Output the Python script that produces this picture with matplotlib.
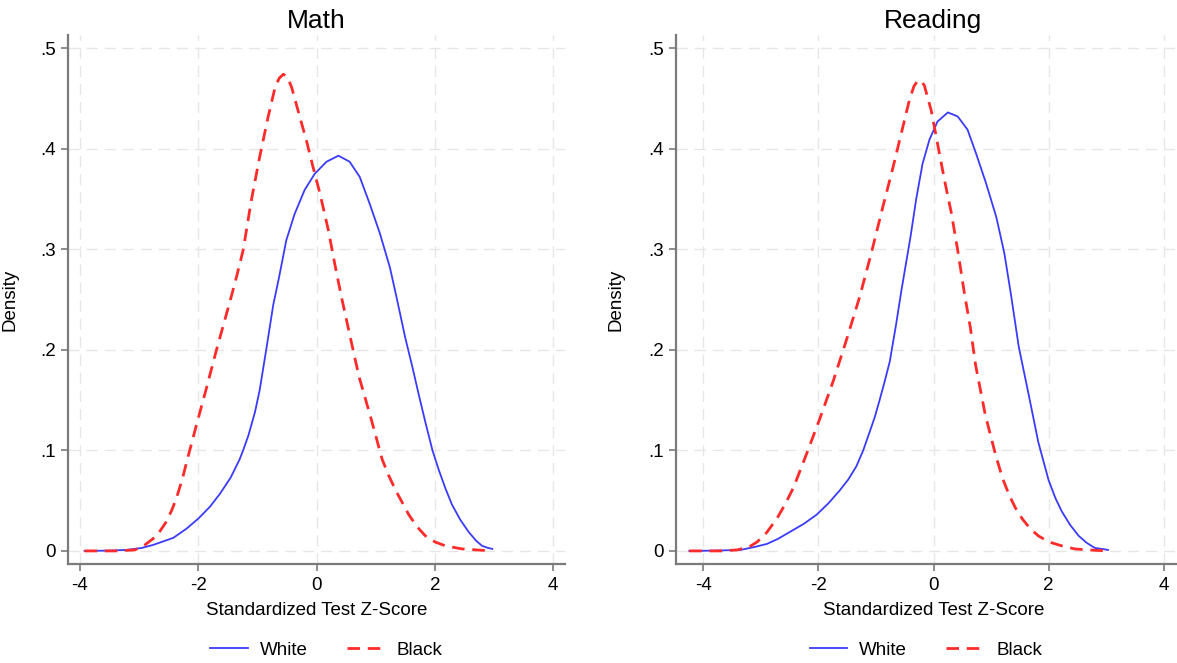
import numpy as np
import matplotlib; matplotlib.use("Agg"); import matplotlib.pyplot as plt

plt.rcParams['font.family'] = ['Liberation Sans', 'DejaVu Sans']
plt.rcParams['axes.unicode_minus'] = False

# Kernel density curves (x = z-score, y = density)
math_white_x = [-3.92, -3.50, -3.21, -2.95, -2.76, -2.42, -2.20, -2.00, -1.80, -1.63, -1.45,
                -1.30, -1.24, -1.15, -1.04, -0.96, -0.85, -0.73, -0.64, -0.59, -0.51, -0.37,
                -0.20, -0.03, 0.17, 0.37, 0.56, 0.73, 0.90, 1.07, 1.24, 1.35, 1.50, 1.62,
                1.73, 1.84, 1.96, 2.07, 2.18, 2.29, 2.43, 2.57, 2.70, 2.80, 2.90, 2.97]
math_white_y = [0.0, 0.0003, 0.001, 0.003, 0.006, 0.013, 0.022, 0.032, 0.044, 0.057, 0.073,
                0.091, 0.100, 0.115, 0.138, 0.160, 0.200, 0.245, 0.270, 0.285, 0.309, 0.335,
                0.359, 0.375, 0.387, 0.393, 0.387, 0.372, 0.345, 0.316, 0.282, 0.253, 0.212, 0.183,
                0.155, 0.128, 0.100, 0.080, 0.062, 0.046, 0.031, 0.019, 0.010, 0.005, 0.003, 0.002]
math_black_x = [-3.92, -3.40, -3.07, -2.90, -2.70, -2.55, -2.45, -2.37, -2.27, -2.17, -2.03,
                -1.86, -1.69, -1.52, -1.44, -1.35, -1.24, -1.10, -0.96, -0.82, -0.70, -0.63,
                -0.56, -0.49, -0.42, -0.28, -0.17, -0.06, 0.06, 0.20, 0.31, 0.42, 0.58, 0.72,
                0.92, 1.11, 1.22, 1.34, 1.56, 1.70, 1.84, 2.00, 2.18, 2.46, 2.70, 2.97]
math_black_y = [0.0, 0.0, 0.001, 0.006, 0.015, 0.028, 0.040, 0.052, 0.071, 0.094, 0.125,
                0.162, 0.200, 0.236, 0.253, 0.273, 0.299, 0.349, 0.392, 0.431, 0.461, 0.470,
                0.474, 0.471, 0.461, 0.431, 0.408, 0.382, 0.355, 0.319, 0.285, 0.253, 0.210, 0.173,
                0.132, 0.091, 0.075, 0.060, 0.036, 0.024, 0.015, 0.009, 0.005, 0.002, 0.001, 0.0]

read_white_x = [-4.24, -3.80, -3.35, -3.10, -2.89, -2.70, -2.49, -2.25, -2.03, -1.83, -1.63,
                -1.48, -1.34, -1.22, -1.11, -1.02, -0.94, -0.85, -0.76, -0.65, -0.56, -0.48,
                -0.40, -0.30, -0.19, -0.07, 0.07, 0.25, 0.42, 0.59, 0.74, 0.91, 1.09, 1.23,
                1.35, 1.48, 1.65, 1.82, 2.00, 2.12, 2.23, 2.37, 2.52, 2.66, 2.80, 2.92, 3.03]
read_white_y = [0.0, 0.0003, 0.001, 0.004, 0.007, 0.012, 0.019, 0.027, 0.036, 0.047, 0.060,
                0.071, 0.084, 0.100, 0.118, 0.133, 0.149, 0.168, 0.188, 0.225, 0.258, 0.285,
                0.312, 0.350, 0.385, 0.409, 0.427, 0.436, 0.432, 0.419, 0.395, 0.366, 0.332, 0.296,
                0.253, 0.203, 0.156, 0.108, 0.070, 0.052, 0.039, 0.026, 0.015, 0.008, 0.003, 0.002, 0.001]
read_black_x = [-4.24, -3.70, -3.41, -3.20, -3.06, -2.90, -2.72, -2.58, -2.43, -2.20, -1.97,
                -1.74, -1.51, -1.28, -1.08, -0.88, -0.70, -0.56, -0.42, -0.34, -0.27, -0.20,
                -0.16, -0.04, 0.07, 0.19, 0.31, 0.42, 0.54, 0.64, 0.73, 0.90, 1.08, 1.20,
                1.31, 1.42, 1.54, 1.68, 1.82, 2.00, 2.23, 2.45, 2.69, 3.03]
read_black_y = [0.0, 0.0, 0.001, 0.004, 0.009, 0.018, 0.032, 0.046, 0.063, 0.097, 0.132,
                0.169, 0.210, 0.253, 0.296, 0.342, 0.382, 0.415, 0.448, 0.462, 0.468, 0.466,
                0.463, 0.438, 0.405, 0.369, 0.336, 0.299, 0.255, 0.222, 0.185, 0.135, 0.095, 0.072,
                0.056, 0.043, 0.032, 0.022, 0.015, 0.009, 0.005, 0.002, 0.001, 0.0]

panels = [("Math", math_white_x, math_white_y, math_black_x, math_black_y, (-4.2, 4.2)),
          ("Reading", read_white_x, read_white_y, read_black_x, read_black_y, (-4.47, 4.47))]
xticks = [-4, -2, 0, 2, 4]
yticks = [0, 0.1, 0.2, 0.3, 0.4, 0.5]
ytick_labels = ["0", ".1", ".2", ".3", ".4", ".5"]

W, H = 1177, 663
fig = plt.figure(figsize=(W / 100, H / 100), dpi=100)
# axes boxes in pixels: (left, right, top, bottom)
boxes = [(68, 565, 35, 564), (676, 1191, 35, 564)]
leg_x = [0.52, 0.485]
blue, red, gray = "#3b3bff", "#ff2a2a", "#7a7a7a"

for (title, wx, wy, bx, by, xl), (l, r, t, b), lx in zip(panels, boxes, leg_x):
    ax = fig.add_axes([l / W, 1 - b / H, (r - l) / W, (b - t) / H])
    ax.plot(wx, wy, color=blue, lw=1.3, label="White")
    ax.plot(bx, by, color=red, lw=2.0, dashes=(4.5, 2.8), label="Black")
    ax.set_xlim(*xl); ax.set_ylim(-0.013, 0.513)
    ax.set_xticks(xticks); ax.set_yticks(yticks); ax.set_yticklabels(ytick_labels)
    ax.grid(True, color="#e6e6e6", lw=1.0, ls=(0, (8, 5)))
    ax.set_axisbelow(True)
    for s in ["top", "right"]:
        ax.spines[s].set_visible(False)
    for s in ["left", "bottom"]:
        ax.spines[s].set_color(gray); ax.spines[s].set_linewidth(1.6)
    ax.tick_params(direction="out", length=5, width=1.2, color=gray, labelsize=13.5, pad=4)
    ax.set_title(title, fontsize=19, pad=5)
    ax.set_xlabel("Standardized Test Z-Score", fontsize=13.5, labelpad=6)
    ax.set_ylabel("Density", fontsize=13.5)
    ax.yaxis.set_label_coords(-0.10, 0.5)
    ax.legend(loc="center", bbox_to_anchor=(lx, -0.163), ncol=2, frameon=False, fontsize=13.5,
              handlelength=2.0, handletextpad=0.65, columnspacing=2.1)

fig.savefig("out.png", dpi=100)
print("saved out.png")
